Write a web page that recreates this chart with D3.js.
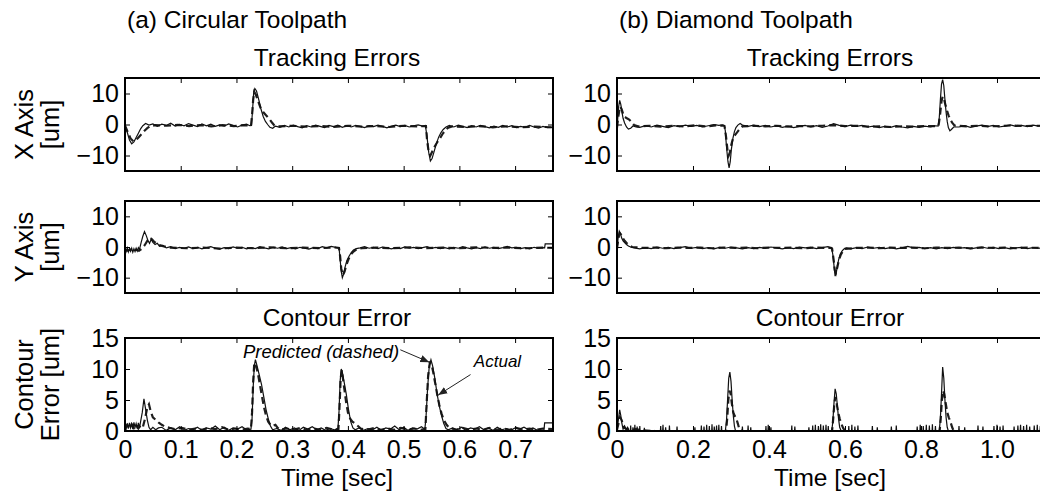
<!DOCTYPE html>
<html>
<head>
<meta charset="utf-8">
<script src="https://cdn.jsdelivr.net/npm/d3@7"></script>
<style>
  body { margin: 0; background: #fff; }
  svg { display: block; }
  text { font-family: "Liberation Sans", Arial, Helvetica, sans-serif; fill: #000; }
</style>
</head>
<body>
<svg id="fig" width="1040" height="491"></svg>
<script>
// ---------------- data: [time (s), error (um)] ----------------

// (a) circular toolpath — X axis tracking error
const circXActual = [[0,-0.3],[0.004,-2.5],[0.008,-5],[0.012,-6.2],[0.016,-5.6],[0.02,-4.2],[0.024,-2.8],[0.028,-1.4],[0.032,-0.4],[0.037,0.3],[0.043,-0.2],[0.05,0.2],[0.058,-0.6],[0.066,0.1],[0.074,-0.3],[0.082,0.4],[0.09,-0.5],[0.098,0],[0.106,-0.4],[0.114,0.3],[0.122,-0.2],[0.13,-0.7],[0.138,0.2],[0.146,-0.4],[0.154,0.1],[0.162,-0.6],[0.17,-0.1],[0.178,-0.5],[0.186,0.2],[0.194,-0.3],[0.202,-0.8],[0.21,-0.2],[0.218,0.1],[0.224,-0.4],
  [0.227,-0.3],[0.229,5],[0.231,10.5],[0.233,11.6],[0.236,10.8],[0.24,8],[0.244,5],[0.248,2.6],[0.252,1],[0.256,0],[0.26,-0.9],[0.265,-1.2],[0.27,-0.5],
  [0.278,-0.9],[0.286,-0.3],[0.294,-0.8],[0.302,-0.2],[0.31,-0.7],[0.318,-1.1],[0.326,-0.4],[0.334,-0.8],[0.342,-0.2],[0.35,-0.6],[0.358,-1],[0.366,-0.3],[0.374,-0.7],[0.382,-0.2],[0.39,-0.9],[0.398,-0.4],[0.406,-0.8],[0.414,-0.3],[0.422,-0.6],[0.43,-1],[0.438,-0.4],[0.446,-0.7],[0.454,-0.2],[0.462,-0.6],[0.47,-1.1],[0.478,-0.5],[0.486,-0.2],[0.494,-0.7],[0.502,-0.3],[0.51,-0.8],[0.518,-0.4],[0.526,-0.1],[0.534,-0.5],[0.539,-0.3],
  [0.542,-4],[0.545,-9],[0.548,-11.8],[0.551,-11],[0.555,-8.5],[0.559,-6],[0.563,-4],[0.567,-2.6],[0.571,-1.6],[0.576,-0.8],[0.582,-0.3],
  [0.59,-0.8],[0.598,-0.2],[0.606,-0.6],[0.614,-1],[0.622,-0.4],[0.63,-0.8],[0.638,-0.3],[0.646,-0.7],[0.654,-1.1],[0.662,-0.5],[0.67,-0.9],[0.678,-0.3],[0.686,-0.8],[0.694,-0.4],[0.702,-1],[0.71,-0.6],[0.718,-0.9],[0.726,-0.3],[0.734,-0.8],[0.742,-1.2],[0.75,-0.6],[0.758,-1],[0.768,-0.9]];
const circXPredicted = [[0,-0.3],[0.005,-2.5],[0.01,-4.5],[0.015,-5.4],[0.02,-5],[0.025,-4],[0.03,-3],[0.035,-2],[0.04,-1.2],[0.045,-0.5],[0.055,-0.2],[0.075,-0.4],[0.095,-0.1],[0.115,-0.5],[0.135,-0.2],[0.155,-0.6],[0.175,-0.2],[0.195,-0.5],[0.215,-0.2],[0.226,-0.4],
  [0.228,3],[0.23,8],[0.232,10.5],[0.235,9.5],[0.239,7.5],[0.243,5.5],[0.248,4],[0.253,3],[0.258,2],[0.263,0.8],[0.268,-0.3],[0.275,-0.6],
  [0.3,-0.4],[0.325,-0.7],[0.35,-0.5],[0.375,-0.8],[0.4,-0.4],[0.425,-0.7],[0.45,-0.5],[0.475,-0.8],[0.5,-0.4],[0.525,-0.6],[0.54,-0.5],
  [0.542,-5],[0.545,-9],[0.548,-10],[0.552,-8.5],[0.556,-7],[0.56,-5.8],[0.565,-4.5],[0.57,-3],[0.575,-1.8],[0.58,-1],[0.587,-0.6],
  [0.61,-0.8],[0.635,-0.5],[0.66,-0.9],[0.685,-0.6],[0.71,-0.9],[0.735,-0.7],[0.768,-0.9]];

// (a) circular toolpath — Y axis tracking error
const circYActual = [[0,-0.5],[0.002,-1.5],[0.004,-0.3],[0.006,-1.6],[0.008,-0.5],[0.01,-1.4],[0.012,-0.4],[0.014,-1.7],[0.016,-0.6],[0.018,-1.5],[0.02,-0.4],[0.022,-1.3],[0.024,-0.2],[0.026,-0.8],[0.029,1.5],[0.032,3.5],[0.035,5],[0.038,3.8],[0.041,2.2],[0.044,1.2],[0.047,2.5],[0.05,1.5],[0.054,0.8],[0.058,1.2],[0.062,0.2],[0.068,0.5],[0.074,-0.3],[0.082,0.1],[0.09,-0.5],[0.098,-0.1],
  [0.106,-0.4],[0.114,0],[0.122,-0.5],[0.13,-0.1],[0.138,-0.6],[0.146,-0.2],[0.154,0.1],[0.162,-0.4],[0.17,-0.7],[0.178,-0.2],[0.186,-0.5],[0.194,0],[0.202,-0.4],[0.21,-0.1],[0.218,-0.6],[0.226,-0.2],[0.234,-0.5],[0.242,0.1],[0.25,-0.3],[0.258,-0.6],[0.266,-0.1],[0.274,-0.4],[0.282,0],[0.29,-0.5],[0.298,-0.2],[0.306,-0.6],[0.314,-0.1],[0.322,-0.4],[0.33,-0.7],[0.338,-0.2],[0.346,-0.5],[0.354,0.1],[0.362,-0.3],[0.37,0.2],[0.378,-0.1],
  [0.384,-0.2],[0.386,-4],[0.388,-8],[0.39,-10],[0.392,-9],[0.395,-6.5],[0.398,-4.5],[0.402,-3],[0.406,-1.8],[0.41,-1],[0.415,-0.5],
  [0.422,-0.3],[0.43,0.1],[0.438,-0.4],[0.446,-0.1],[0.454,-0.5],[0.462,0],[0.47,-0.3],[0.478,-0.6],[0.486,-0.2],[0.494,-0.5],[0.502,0],[0.51,-0.4],[0.518,-0.1],[0.526,-0.5],[0.534,-0.2],[0.542,0.1],[0.55,-0.4],[0.558,-0.1],[0.566,-0.5],[0.574,-0.2],[0.582,-0.6],[0.59,-0.1],[0.598,-0.4],[0.606,0.1],[0.614,-0.3],[0.622,-0.6],[0.63,-0.2],[0.638,-0.5],[0.646,0],[0.654,-0.4],[0.662,-0.1],[0.67,-0.5],[0.678,-0.2],[0.686,0.2],[0.694,-0.3],[0.702,-0.1],[0.71,-0.5],[0.718,-0.2],[0.726,-0.6],[0.734,-0.1],[0.742,-0.4],[0.75,-0.2],[0.753,-0.3],[0.754,1],[0.768,1]];
const circYPredicted = [[0,-1],[0.005,-1.2],[0.01,-0.8],[0.015,-1.3],[0.02,-0.9],[0.025,-1.2],[0.03,-0.6],[0.035,0.5],[0.04,2],[0.044,3],[0.048,2.6],[0.052,1.8],[0.056,1.2],[0.062,0.6],[0.07,0.2],[0.08,-0.2],
  [0.11,-0.4],[0.14,-0.2],[0.17,-0.5],[0.2,-0.2],[0.23,-0.4],[0.26,-0.1],[0.29,-0.4],[0.32,-0.2],[0.35,-0.4],[0.375,-0.1],[0.384,-0.3],
  [0.386,-3],[0.388,-7],[0.391,-9.2],[0.394,-8],[0.397,-6],[0.401,-4],[0.405,-2.5],[0.41,-1.5],[0.416,-0.7],[0.425,-0.4],
  [0.45,-0.2],[0.48,-0.4],[0.51,-0.1],[0.54,-0.4],[0.57,-0.2],[0.6,-0.4],[0.63,-0.1],[0.66,-0.3],[0.69,-0.2],[0.72,-0.4],[0.75,-0.2],[0.768,-0.3]];

// (a) circular toolpath — contour error
const circContourActual = [[0,0.8],[0.002,0.3],[0.004,1.2],[0.006,0.4],[0.008,1.3],[0.01,0.5],[0.012,1.1],[0.014,0.3],[0.016,1.4],[0.018,0.6],[0.02,1.2],[0.022,0.4],[0.024,1.3],[0.026,0.5],[0.028,1.5],[0.031,3],[0.034,5.2],[0.037,3.5],[0.04,1.8],[0.043,0.6],[0.046,0.2],[0.05,0.6],[0.055,0.2],[0.06,0.5],
  [0.066,0.6],[0.074,0.1],[0.082,0.5],[0.09,0.2],[0.098,0.7],[0.106,0.1],[0.114,0.4],[0.122,0.2],[0.13,0.6],[0.138,0.1],[0.146,0.5],[0.154,0.3],[0.162,0.8],[0.17,0.2],[0.178,0.6],[0.186,0.1],[0.194,0.5],[0.202,0.3],[0.21,0.7],[0.218,0.2],
  [0.226,0.3],[0.228,2],[0.23,7],[0.232,10.5],[0.234,11.5],[0.237,10.5],[0.241,9],[0.245,7.5],[0.249,5.5],[0.253,3.5],[0.257,2],[0.261,0.8],[0.265,0.2],
  [0.272,0.4],[0.28,0.1],[0.288,0.6],[0.296,0.2],[0.304,0.5],[0.312,0.1],[0.32,0.6],[0.328,0.3],[0.336,0.7],[0.344,0.2],[0.352,0.5],[0.36,0.1],[0.368,0.4],[0.376,0.2],
  [0.382,0.3],[0.384,3],[0.386,8],[0.388,10],[0.39,9.5],[0.393,8],[0.397,6],[0.401,3.5],[0.405,1.5],[0.409,0.5],[0.413,0.2],
  [0.42,0.5],[0.428,0.1],[0.436,0.4],[0.444,0.2],[0.452,0.6],[0.46,0.1],[0.468,0.5],[0.476,0.3],[0.484,0.8],[0.492,0.2],[0.5,0.6],[0.508,0.1],[0.516,0.5],[0.524,0.3],[0.532,0.7],
  [0.538,0.3],[0.54,2],[0.543,7],[0.546,10.5],[0.549,11.5],[0.552,10.5],[0.556,8.5],[0.56,6],[0.564,4],[0.568,2.5],[0.572,1.2],[0.576,0.4],[0.58,0.2],
  [0.588,0.5],[0.596,0.2],[0.604,0.6],[0.612,0.1],[0.62,0.5],[0.628,0.3],[0.636,0.7],[0.644,0.2],[0.652,0.5],[0.66,0.1],[0.668,0.6],[0.676,0.2],[0.684,0.4],[0.692,0.1],[0.7,0.5],[0.708,0.3],[0.716,0.6],[0.724,0.2],[0.732,0.5],[0.74,0.1],[0.748,0.4],[0.752,0.3],[0.753,1.3],[0.768,1.3]];
const circContourPredicted = [[0,0.5],[0.004,1],[0.008,0.4],[0.012,1.1],[0.016,0.5],[0.02,1],[0.024,0.4],[0.028,0.9],[0.032,0.6],[0.036,2],[0.04,3.8],[0.043,4.3],[0.046,3.2],[0.05,2.2],[0.055,1.8],[0.06,1.4],[0.066,1],[0.072,0.7],[0.08,0.5],[0.09,0.3],
  [0.102,0.5],[0.114,0.2],[0.126,0.4],[0.138,0.2],[0.15,0.5],[0.162,0.3],[0.174,0.6],[0.186,0.2],[0.198,0.4],[0.21,0.2],[0.22,0.4],
  [0.226,0.3],[0.228,3],[0.23,8],[0.232,11],[0.235,10.5],[0.238,9.5],[0.241,8],[0.245,6],[0.249,4],[0.253,2.5],[0.257,1.5],[0.261,1],[0.265,0.8],[0.27,1],[0.274,0.5],[0.278,0.2],
  [0.29,0.4],[0.302,0.2],[0.314,0.5],[0.326,0.2],[0.338,0.4],[0.35,0.2],[0.362,0.5],[0.374,0.2],[0.381,0.3],
  [0.383,0.3],[0.385,4],[0.387,8.5],[0.389,9.8],[0.391,8.5],[0.394,6.5],[0.397,4.5],[0.4,3],[0.404,2],[0.408,1.5],[0.413,1.2],[0.418,0.8],[0.423,0.4],
  [0.435,0.2],[0.447,0.5],[0.459,0.2],[0.471,0.4],[0.483,0.2],[0.495,0.5],[0.507,0.2],[0.519,0.4],[0.531,0.2],[0.537,0.3],
  [0.539,0.3],[0.541,4],[0.544,9],[0.547,11],[0.55,10.8],[0.553,9.5],[0.556,8],[0.56,6],[0.564,4.2],[0.568,2.8],[0.572,1.8],[0.577,1],[0.582,0.5],
  [0.594,0.2],[0.606,0.5],[0.618,0.2],[0.63,0.4],[0.642,0.2],[0.654,0.5],[0.666,0.2],[0.678,0.4],[0.69,0.2],[0.702,0.5],[0.714,0.2],[0.726,0.4],[0.738,0.2],[0.75,0.4],[0.768,0.3]];

// (b) diamond toolpath — X axis tracking error
const diamXActual = [[0,-1.5],[0.002,2],[0.004,5.5],[0.007,7.8],[0.01,6.5],[0.013,4],[0.016,2],[0.02,0.5],[0.025,-0.8],[0.03,-1.5],[0.036,-1.2],[0.042,-0.5],[0.05,-0.8],
  [0.06,-0.9],[0.075,-0.4],[0.09,-0.8],[0.105,-0.2],[0.12,-0.6],[0.135,-1],[0.15,-0.4],[0.165,-0.7],[0.18,-0.2],[0.195,-0.6],[0.21,-0.3],[0.225,-0.8],[0.24,-0.4],[0.255,0],[0.268,-0.3],[0.278,-0.1],
  [0.282,-0.3],[0.285,-2],[0.288,-7],[0.292,-12],[0.295,-14],[0.298,-12],[0.301,-8],[0.305,-4.5],[0.309,-2.3],[0.313,-1],[0.318,-0.2],[0.324,0.3],[0.33,-0.2],
  [0.345,-0.6],[0.36,-0.2],[0.375,-0.7],[0.39,-0.3],[0.405,-0.8],[0.42,-0.4],[0.435,-0.9],[0.45,-0.5],[0.465,-1],[0.48,-0.6],[0.495,-0.3],[0.51,-0.8],[0.525,-0.4],[0.54,-0.9],[0.555,-0.5],[0.57,0.3],[0.585,-0.3],[0.6,-0.7],[0.615,-0.2],[0.63,-0.6],[0.645,-0.3],[0.66,-0.8],[0.675,-0.5],[0.69,-1],[0.705,-0.6],[0.72,-0.9],[0.735,-0.4],[0.75,-0.8],[0.765,-1.1],[0.78,-0.6],[0.795,-0.9],[0.81,-0.5],[0.825,-0.8],[0.838,-0.4],
  [0.845,-0.5],[0.848,2],[0.851,8],[0.854,13],[0.857,14.5],[0.86,12.5],[0.863,8],[0.866,4],[0.869,1],[0.872,-1],[0.876,-2],[0.88,-1.6],[0.886,-0.8],
  [0.9,-0.8],[0.915,-0.4],[0.93,-0.9],[0.945,-0.5],[0.96,-0.2],[0.975,-0.7],[0.99,-0.3],[1.005,-0.8],[1.02,-0.5],[1.035,-0.1],[1.05,-0.6],[1.065,-0.3],[1.08,-0.7],[1.095,-0.2],[1.11,-0.5],[1.132,-0.3]];
const diamXPredicted = [[0,-1],[0.004,3],[0.008,5.8],[0.012,5],[0.016,3.5],[0.02,2.5],[0.026,2],[0.032,1.6],[0.038,0.8],[0.045,-0.2],[0.055,-0.6],
  [0.085,-0.4],[0.115,-0.7],[0.145,-0.4],[0.175,-0.6],[0.205,-0.3],[0.235,-0.6],[0.26,-0.3],[0.28,-0.4],
  [0.283,-0.5],[0.287,-4],[0.291,-8.5],[0.294,-10],[0.297,-9],[0.3,-7],[0.304,-5],[0.308,-3.8],[0.313,-3],[0.318,-2.2],[0.324,-1.3],[0.33,-0.6],
  [0.36,-0.4],[0.39,-0.6],[0.42,-0.4],[0.45,-0.7],[0.48,-0.5],[0.51,-0.6],[0.54,-0.4],[0.57,-0.2],[0.6,-0.5],[0.63,-0.4],[0.66,-0.7],[0.69,-0.6],[0.72,-0.8],[0.75,-0.6],[0.78,-0.7],[0.81,-0.5],[0.84,-0.5],
  [0.846,-0.5],[0.85,3],[0.854,7.5],[0.857,9],[0.861,8],[0.865,6],[0.869,4.2],[0.873,2.8],[0.877,1.6],[0.882,0.6],[0.888,-0.3],
  [0.92,-0.6],[0.95,-0.4],[0.98,-0.6],[1.01,-0.5],[1.04,-0.3],[1.07,-0.5],[1.1,-0.4],[1.132,-0.4]];

// (b) diamond toolpath — Y axis tracking error
const diamYActual = [[0,-1],[0.003,3],[0.006,5.2],[0.009,4.5],[0.012,3],[0.016,2],[0.02,1.4],[0.025,0.8],[0.03,0.3],[0.036,0],[0.045,-0.3],
  [0.06,-0.6],[0.075,-0.2],[0.09,-0.5],[0.105,0],[0.12,-0.4],[0.135,-0.1],[0.15,-0.5],[0.165,-0.2],[0.18,0.1],[0.195,-0.4],[0.21,-0.1],[0.225,-0.5],[0.24,-0.2],[0.255,-0.6],[0.27,-0.1],[0.285,-0.4],[0.3,0],[0.315,-0.3],[0.33,-0.6],[0.345,-0.2],[0.36,-0.5],[0.375,-0.1],[0.39,-0.4],[0.405,0],[0.42,-0.3],[0.435,-0.6],[0.45,-0.2],[0.465,-0.5],[0.48,0],[0.495,-0.3],[0.51,-0.1],[0.525,-0.5],[0.54,-0.2],[0.555,0.1],[0.562,-0.2],
  [0.565,-0.4],[0.568,-2.5],[0.571,-6],[0.574,-9.5],[0.577,-8.5],[0.58,-6],[0.584,-3.8],[0.588,-2.2],[0.593,-1.2],[0.598,-0.6],[0.604,-0.3],
  [0.615,-0.6],[0.63,-0.2],[0.645,-0.5],[0.66,0],[0.675,-0.4],[0.69,-0.1],[0.705,-0.5],[0.72,-0.2],[0.735,-0.6],[0.75,-0.3],[0.765,0.2],[0.78,-0.3],[0.795,-0.1],[0.81,-0.5],[0.825,-0.2],[0.84,-0.6],[0.855,-0.2],[0.87,-0.5],[0.885,-0.1],[0.9,-0.4],[0.915,-0.2],[0.93,-0.6],[0.945,-0.3],[0.96,0],[0.975,-0.4],[0.99,-0.1],[1.005,-0.5],[1.02,-0.2],[1.035,-0.6],[1.05,-0.3],[1.065,-0.1],[1.08,-0.5],[1.095,-0.2],[1.11,-0.4],[1.132,-0.3]];
const diamYPredicted = [[0,-0.5],[0.004,3],[0.007,4.5],[0.011,4],[0.015,3],[0.02,2],[0.026,1.2],[0.032,0.5],[0.04,0],
  [0.07,-0.3],[0.1,-0.2],[0.13,-0.4],[0.16,-0.2],[0.19,-0.3],[0.22,-0.2],[0.25,-0.4],[0.28,-0.2],[0.31,-0.3],[0.34,-0.2],[0.37,-0.4],[0.4,-0.2],[0.43,-0.3],[0.46,-0.2],[0.49,-0.4],[0.52,-0.2],[0.55,-0.3],[0.563,-0.3],
  [0.566,-0.5],[0.57,-4],[0.573,-7.5],[0.576,-8.5],[0.58,-6.5],[0.584,-4.2],[0.589,-2.5],[0.594,-1.4],[0.6,-0.6],
  [0.63,-0.3],[0.66,-0.2],[0.69,-0.4],[0.72,-0.2],[0.75,-0.3],[0.78,-0.2],[0.81,-0.4],[0.84,-0.2],[0.87,-0.3],[0.9,-0.2],[0.93,-0.4],[0.96,-0.2],[0.99,-0.3],[1.02,-0.2],[1.05,-0.4],[1.08,-0.2],[1.11,-0.3],[1.132,-0.3]];

// (b) diamond toolpath — contour error (start transient and three corner peaks)
const diamContourActual = [[0,0],[0.003,1.5],[0.007,3.4],[0.01,2.5],[0.013,1.2],[0.016,0.3],[0.02,0.8],[0.024,0.2],[0.028,0.6],[0.032,0],
  [0.285,0],[0.288,1.5],[0.291,5],[0.294,8.5],[0.297,9.5],[0.3,8],[0.303,5],[0.306,2.5],[0.309,0.8],[0.312,0],
  [0.565,0],[0.568,1.5],[0.571,4.5],[0.574,6.8],[0.577,6],[0.58,4],[0.583,2],[0.586,0.6],[0.59,0],
  [0.848,0],[0.851,2],[0.854,6],[0.857,10.3],[0.86,8.5],[0.863,5],[0.866,2.2],[0.869,0.6],[0.872,0],[1.132,0]];
// short noise spikes on the diamond contour error baseline: [time, height]
const diamContourSpikes = [[0.036,0.9],[0.042,0.6],[0.047,1],[0.053,0.7],[0.06,0.8],[0.072,0.5],[0.115,0.8],[0.121,1],[0.128,0.6],[0.138,0.9],[0.158,0.7],[0.205,0.6],[0.222,0.9],[0.229,0.7],[0.236,1],[0.243,0.8],[0.25,1.1],[0.256,0.7],[0.262,0.9],[0.268,1],[0.275,0.8],[0.33,0.7],[0.345,0.9],[0.352,0.6],[0.392,0.8],[0.398,1],[0.405,0.6],[0.46,0.9],[0.468,0.7],[0.505,0.6],[0.515,0.9],[0.522,1],[0.53,0.8],[0.536,1.1],[0.543,0.9],[0.55,1],[0.556,0.8],[0.61,0.8],[0.618,1],[0.626,0.7],[0.634,0.9],[0.672,0.8],[0.685,0.6],[0.722,0.7],[0.735,0.9],[0.79,0.7],[0.798,1],[0.806,0.8],[0.814,1],[0.822,0.9],[0.83,1.1],[0.838,0.8],[0.9,0.8],[0.915,0.6],[0.95,0.9],[0.963,0.7],[0.992,0.8],[1.0,1],[1.008,0.7],[1.016,0.9],[1.045,0.7],[1.055,0.9],[1.062,1],[1.07,0.8],[1.078,1],[1.086,0.7],[1.098,0.9],[1.106,1],[1.114,0.8],[1.122,0.9]];
const diamContourPredicted = [[0,0.2],[0.004,1.2],[0.008,2.2],[0.012,1.8],[0.016,1],[0.02,0.5],[0.026,0.3],[0.035,0.1],[0.05,0.3],[0.07,0.1],[0.1,0],
  [0.287,0],[0.29,2],[0.293,5],[0.296,6.5],[0.299,6],[0.302,4.5],[0.306,3],[0.31,2.4],[0.314,2],[0.318,1.2],[0.322,0.3],[0.33,0],
  [0.566,0],[0.569,2],[0.572,4.5],[0.575,5.5],[0.578,4.5],[0.582,3],[0.586,2],[0.59,1.2],[0.595,0.5],[0.6,0],
  [0.849,0],[0.852,2],[0.855,5],[0.858,6.5],[0.861,6],[0.865,4.5],[0.869,3],[0.873,2.2],[0.877,1.6],[0.882,0.6],[0.886,0],[1.132,0]];

// axis ticks and labels
const circTicks = [0, 0.1, 0.2, 0.3, 0.4, 0.5, 0.6, 0.7];
const circTickLabels = ["0", "0.1", "0.2", "0.3", "0.4", "0.5", "0.6", "0.7"];
const diamTicks = [0, 0.2, 0.4, 0.6, 0.8, 1.0];
const diamTickLabels = ["0", "0.2", "0.4", "0.6", "0.8", "1.0"];
const trackTicks = [-10, 0, 10];
const trackTickLabels = ["\u221210", "0", "10"];
const contourTicks = [0, 5, 10, 15];
const contourTickLabels = ["0", "5", "10", "15"];
const timeDomains = [[0, 0.768], [0, 1.1316]];
const trackDomain = [-15, 15];
const contourDomain = [0, 15];

// ---------------- layout ----------------
const svg = d3.select("#fig");
const cols = [
  { left: 125, right: 553, domain: timeDomains[0], ticks: circTicks, labels: circTickLabels,
    heading: "(a) Circular Toolpath" },
  { left: 617, right: 1047, domain: timeDomains[1], ticks: diamTicks, labels: diamTickLabels,
    heading: "(b) Diamond Toolpath" }
];
const rows = [
  { top: 78, bottom: 171, domain: trackDomain, ticks: trackTicks, labels: trackTickLabels,
    title: "Tracking Errors", ylab: ["X Axis", "[um]"] },
  { top: 201, bottom: 293, domain: trackDomain, ticks: trackTicks, labels: trackTickLabels,
    title: null, ylab: ["Y Axis", "[um]"] },
  { top: 338, bottom: 431, domain: contourDomain, ticks: contourTicks, labels: contourTickLabels,
    title: "Contour Error", ylab: ["Contour", "Error [um]"] }
];
const seriesGrid = [
  [[circXActual, circXPredicted], [diamXActual, diamXPredicted]],
  [[circYActual, circYPredicted], [diamYActual, diamYPredicted]],
  [[circContourActual, circContourPredicted], [null, diamContourPredicted]]
];

// diamond contour actual = transient/peaks merged with the baseline spikes
const diamContourMerged = diamContourActual.concat(
  diamContourSpikes.flatMap(([t, h]) => [[t - 0.0008, 0], [t, h], [t + 0.0008, 0]])
).sort((a, b) => a[0] - b[0]);
seriesGrid[2][1][0] = diamContourMerged;

const TICK_FONT = 25;
const TITLE_FONT = 24.5;
const LABEL_FONT = 25.5;
const defs = svg.append("defs");
defs.append("marker").attr("id", "arrowhead")
  .attr("viewBox", "0 0 10 10").attr("refX", 10).attr("refY", 5)
  .attr("markerWidth", 9).attr("markerHeight", 9).attr("markerUnits", "userSpaceOnUse")
  .attr("orient", "auto")
  .append("path").attr("d", "M0,1 L10,5 L0,9 Z").attr("fill", "#222");

cols.forEach((c, ci) => {
  svg.append("text").attr("x", c.left + 2).attr("y", 28)
    .attr("font-size", TITLE_FONT).text(c.heading);

  rows.forEach((r, ri) => {
    const x = d3.scaleLinear().domain(c.domain).range([c.left, c.right]);
    const y = d3.scaleLinear().domain(r.domain).range([r.bottom, r.top]);
    const g = svg.append("g");
    const clipId = `clip-${ci}-${ri}`;
    defs.append("clipPath").attr("id", clipId).append("rect")
      .attr("x", c.left).attr("y", r.top)
      .attr("width", c.right - c.left).attr("height", r.bottom - r.top);

    const line = d3.line().x(d => x(d[0])).y(d => y(d[1]));
    const [actual, predicted] = seriesGrid[ri][ci];
    const plot = g.append("g").attr("clip-path", `url(#${clipId})`);
    plot.append("path").datum(predicted).attr("d", line)
      .attr("fill", "none").attr("stroke", "#1e1e1e").attr("stroke-width", 2.2)
      .attr("stroke-dasharray", "7,4");
    plot.append("path").datum(actual).attr("d", line)
      .attr("fill", "none").attr("stroke", "#111").attr("stroke-width", 1.2);

    // inward ticks on all four sides, labels on left (and bottom row)
    const tickLabel = (ticks, labels) => v => labels[ticks.indexOf(v)];
    const axL = g.append("g").attr("transform", `translate(${c.left},0)`)
      .call(d3.axisLeft(y).tickValues(r.ticks).tickSize(-5).tickPadding(6)
        .tickFormat(tickLabel(r.ticks, r.labels)));
    const axR = g.append("g").attr("transform", `translate(${c.right},0)`)
      .call(d3.axisRight(y).tickValues(r.ticks).tickSize(-5).tickFormat(""));
    const axT = g.append("g").attr("transform", `translate(0,${r.top})`)
      .call(d3.axisTop(x).tickValues(c.ticks).tickSize(-5).tickFormat(""));
    const axB = g.append("g").attr("transform", `translate(0,${r.bottom})`)
      .call(d3.axisBottom(x).tickValues(c.ticks).tickSize(-5).tickPadding(9)
        .tickFormat(ri === 2 ? tickLabel(c.ticks, c.labels) : ""));
    [axL, axR, axT, axB].forEach(a => {
      a.select(".domain").remove();
      a.selectAll(".tick line").attr("stroke", "#000").attr("stroke-width", 1);
      a.selectAll("text").attr("font-size", TICK_FONT).attr("fill", "#000")
        .attr("font-family", '"Liberation Sans", Arial, sans-serif');
    });
    g.append("rect").attr("x", c.left).attr("y", r.top)
      .attr("width", c.right - c.left).attr("height", r.bottom - r.top)
      .attr("fill", "none").attr("stroke", "#000").attr("stroke-width", 2);

    if (r.title) {
      svg.append("text").attr("x", (c.left + c.right) / 2 - 2).attr("y", r.top - 12)
        .attr("text-anchor", "middle").attr("font-size", TITLE_FONT).text(r.title);
    }
    if (ci === 0) {
      const yc = (r.top + r.bottom) / 2;
      [33, 59].forEach((bx, li) => {
        svg.append("text").attr("transform", `translate(${bx},${yc}) rotate(-90)`)
          .attr("text-anchor", "middle").attr("font-size", LABEL_FONT).text(r.ylab[li]);
      });
    }
    if (ri === 2) {
      svg.append("text").attr("x", (c.left + c.right) / 2 - 2).attr("y", 486)
        .attr("text-anchor", "middle").attr("font-size", TITLE_FONT).text("Time [sec]");
    }

    // annotations naming the two curves
    if (ri === 2 && ci === 0) {
      const ann = g.append("g");
      ann.append("text").attr("x", x(0.492)).attr("y", y(11.8))
        .attr("text-anchor", "end").attr("font-style", "italic")
        .attr("font-size", 18.5).attr("fill", "#222").text("Predicted (dashed)");
      ann.append("line").attr("x1", x(0.494)).attr("y1", y(13.1))
        .attr("x2", x(0.546)).attr("y2", y(11.1))
        .attr("stroke", "#222").attr("stroke-width", 1).attr("marker-end", "url(#arrowhead)");
      ann.append("text").attr("x", x(0.626)).attr("y", y(10.3))
        .attr("font-style", "italic").attr("font-size", 17).attr("fill", "#222").text("Actual");
      ann.append("line").attr("x1", x(0.62)).attr("y1", y(9.1))
        .attr("x2", x(0.562)).attr("y2", y(5.8))
        .attr("stroke", "#222").attr("stroke-width", 1).attr("marker-end", "url(#arrowhead)");
    }
  });
});
</script>
</body>
</html>
